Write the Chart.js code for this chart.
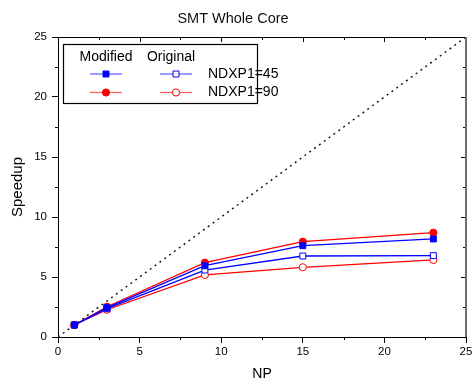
<!DOCTYPE html>
<html>
<head>
<meta charset="utf-8">
<script src="https://cdn.jsdelivr.net/npm/chart.js@4/dist/chart.umd.min.js"></script>
<style>
  html, body { margin: 0; padding: 0; background: #fff; }
  #wrap { width: 476px; height: 383px; }
</style>
</head>
<body>
<div id="wrap"><canvas id="c"></canvas></div>
<script>
// NP values (x) and speedup per series
const np = [1, 3, 9, 15, 23]
const mod45 = [1.0, 2.45, 5.94, 7.61, 8.17]
const mod90 = [1.0, 2.52, 6.19, 7.94, 8.69]
const orig45 = [1.0, 2.36, 5.58, 6.75, 6.78]
const orig90 = [1.0, 2.27, 5.17, 5.81, 6.42]
const ideal = [0, 25] // y = x reference line

const BLUE = '#0000ff'
const RED = '#ff0000'
const FONT = 'Liberation Sans'

const pts = ys => np.map((x, i) => ({x: x, y: ys[i]}))

function series(label, ys, color, style, filled) {
    return {
        label: label,
        data: pts(ys),
        borderColor: color,
        borderWidth: 1.3,
        pointStyle: style,
        pointRadius: style == 'rect' ? 4.2 : 3.6,
        pointBorderWidth: 1,
        pointBorderColor: color,
        pointBackgroundColor: filled ? color : '#fff',
        tension: 0
    }
}

// minor ticks + top/right frame, and the two-column legend
const framePlugin = {
    id: 'frame',
    afterDraw(chart) {
        const ctx = chart.ctx
        const a = chart.chartArea
        const xs = chart.scales.x, ys = chart.scales.y
        ctx.save()
        ctx.strokeStyle = '#000'
        ctx.lineWidth = 1
        ctx.beginPath()
        for (let v = 0; v <= 25; v += 2.5) {
            const major = v % 5 == 0
            const px = Math.round(xs.getPixelForValue(v)) + 0.5
            const py = Math.round(ys.getPixelForValue(v)) + 0.5
            if (!major) {
                // outward minor ticks on bottom / left
                ctx.moveTo(px, a.bottom); ctx.lineTo(px, a.bottom + 3)
                ctx.moveTo(a.left, py); ctx.lineTo(a.left - 3, py)
            }
            // inward ticks on top / right
            const len = major ? 5 : 3
            ctx.moveTo(px, a.top); ctx.lineTo(px, a.top + len)
            ctx.moveTo(a.right, py); ctx.lineTo(a.right - len, py)
        }
        ctx.moveTo(a.left, Math.round(a.top) + 0.5)
        ctx.lineTo(a.right, Math.round(a.top) + 0.5)
        ctx.stroke()
        ctx.strokeStyle = '#6e6e6e'
        ctx.lineWidth = 2
        ctx.beginPath()
        ctx.moveTo(a.right, a.top); ctx.lineTo(a.right, a.bottom)
        ctx.stroke()

        // legend
        const lx = a.left + 5, ly = a.top + 7, lw = 194, lh = 59
        ctx.fillStyle = '#fff'
        ctx.fillRect(lx, ly, lw, lh)
        ctx.strokeStyle = '#000'
        ctx.lineWidth = 1.2
        ctx.strokeRect(Math.round(lx) + 0.5, Math.round(ly) + 0.5, lw, lh)
        ctx.fillStyle = '#000'
        ctx.font = '14px "' + FONT + '"'
        ctx.textBaseline = 'middle'
        ctx.textAlign = 'center'
        ctx.fillText('Modified', lx + 43, ly + 13)
        ctx.fillText('Original', lx + 108, ly + 13)
        ctx.textAlign = 'left'
        const rows = [[0, 1, 'NDXP1=45'], [2, 3, 'NDXP1=90']]
        rows.forEach((r, k) => {
            const yy = ly + 30 + k * 18.5
            ;[[r[0], lx + 43], [r[1], lx + 113]].forEach(([di, cx]) => {
                const ds = chart.data.datasets[di]
                ctx.strokeStyle = ds.borderColor
                ctx.globalAlpha = 0.65
                ctx.lineWidth = 1.2
                ctx.beginPath()
                ctx.moveTo(cx - 16, yy); ctx.lineTo(cx + 16, yy)
                ctx.stroke()
                ctx.globalAlpha = 1
                ctx.fillStyle = ds.pointBackgroundColor
                ctx.lineWidth = 1
                Chart.helpers.drawPoint(ctx, {pointStyle: ds.pointStyle, radius: ds.pointRadius, rotation: 0, borderWidth: 1}, cx, yy)
            })
            ctx.fillStyle = '#000'
            ctx.fillText(r[2], lx + 145, yy)
        })
        ctx.restore()
    }
}

new Chart(document.getElementById('c'), {
    type: 'line',
    data: {
        datasets: [
            series('Modified NDXP1=45', mod45, BLUE, 'rect', true),
            series('Original NDXP1=45', orig45, BLUE, 'rect', false),
            series('Modified NDXP1=90', mod90, RED, 'circle', true),
            series('Original NDXP1=90', orig90, RED, 'circle', false),
            {
                label: 'ideal',
                data: ideal.map(v => ({x: v, y: v})),
                borderColor: '#111',
                borderWidth: 1.4,
                borderDash: [2, 4],
                pointRadius: 0,
                tension: 0
            }
        ]
    },
    options: {
        responsive: true,
        maintainAspectRatio: false,
        animation: false,
        layout: {padding: {left: 0, right: 10, top: 0, bottom: 0}},
        plugins: {
            legend: {display: false},
            tooltip: {enabled: false},
            title: {
                display: true,
                text: 'SMT Whole Core',
                color: '#111',
                font: {family: FONT, size: 14.5, weight: 'normal'},
                padding: {top: 10, bottom: 9.6}
            }
        },
        scales: {
            x: {
                type: 'linear',
                min: 0, max: 25,
                afterFit: s => { s.height = 46 },
                ticks: {stepSize: 5, color: '#000', padding: 2, font: {family: FONT, size: 11.5}},
                grid: {display: true, drawOnChartArea: false, drawTicks: true, tickLength: 6, color: '#000'},
                border: {display: true, color: '#000', width: 1},
                title: {display: true, text: 'NP', color: '#000', font: {family: FONT, size: 14}, padding: {top: 0, bottom: 0}}
            },
            y: {
                type: 'linear',
                min: 0, max: 25,
                afterFit: s => { s.width = 58 },
                ticks: {stepSize: 5, color: '#000', padding: 5, font: {family: FONT, size: 11.5}},
                grid: {display: true, drawOnChartArea: false, drawTicks: true, tickLength: 6, color: '#000'},
                border: {display: true, color: '#000', width: 1},
                title: {display: true, text: 'Speedup', color: '#000', font: {family: FONT, size: 15}, padding: {top: 9, bottom: 0}}
            }
        }
    },
    plugins: [framePlugin]
})
</script>
</body>
</html>
